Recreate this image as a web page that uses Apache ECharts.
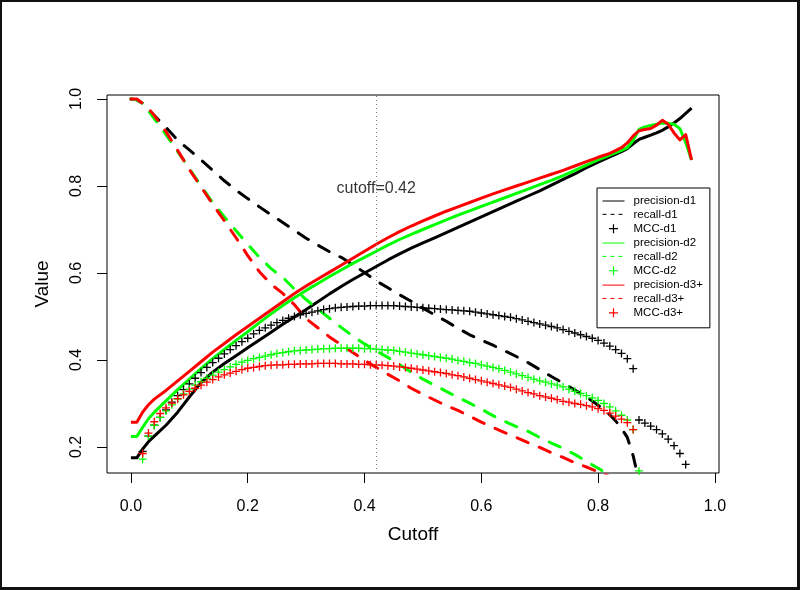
<!DOCTYPE html>
<html>
<head>
<meta charset="utf-8">
<script src="https://cdn.jsdelivr.net/npm/echarts@6/dist/echarts.min.js"></script>
<style>
html,body{margin:0;padding:0;background:#fff;}
#wrap{position:relative;width:800px;height:590px;}
#chart{position:absolute;left:0;top:0;width:800px;height:590px;}
#frame{position:absolute;left:0;top:0;width:800px;height:590px;box-sizing:border-box;border-left:2px solid #111;border-top:2px solid #111;border-right:3px solid #111;border-bottom:3px solid #111;pointer-events:none;}
</style>
</head>
<body>
<div id="wrap"><div id="chart"></div><div id="frame"></div></div>
<script>
// ---------- data ----------
const xTicks = [0, 0.2, 0.4, 0.6, 0.8, 1.0];
const yTicks = [0.2, 0.4, 0.6, 0.8, 1.0];
const chosenCutoff = 0.42;
const cutoffLabelY = 0.795;

const precisionD1 = [[0,0.175],[0.01,0.175],[0.02,0.195],[0.03,0.212],[0.04,0.225],[0.06,0.25],[0.08,0.28],[0.10,0.315],[0.12,0.348],[0.14,0.372],[0.16,0.392],[0.18,0.41],[0.20,0.428],[0.22,0.446],[0.24,0.464],[0.26,0.482],[0.28,0.499],[0.30,0.516],[0.32,0.534],[0.34,0.552],[0.36,0.569],[0.38,0.585],[0.40,0.60],[0.42,0.615],[0.44,0.63],[0.46,0.644],[0.48,0.657],[0.50,0.669],[0.52,0.681],[0.54,0.693],[0.56,0.705],[0.58,0.717],[0.60,0.729],[0.62,0.741],[0.64,0.753],[0.66,0.765],[0.68,0.777],[0.70,0.789],[0.72,0.802],[0.74,0.815],[0.76,0.828],[0.78,0.842],[0.80,0.855],[0.82,0.867],[0.84,0.879],[0.85,0.886],[0.86,0.897],[0.87,0.907],[0.88,0.912],[0.89,0.917],[0.90,0.922],[0.91,0.928],[0.92,0.936],[0.93,0.945],[0.94,0.955],[0.95,0.967],[0.96,0.979]];
const recallD1 = [[0,1.0],[0.01,0.998],[0.02,0.99],[0.03,0.975],[0.04,0.962],[0.06,0.935],[0.08,0.905],[0.10,0.883],[0.12,0.86],[0.14,0.836],[0.16,0.812],[0.18,0.79],[0.20,0.771],[0.22,0.752],[0.24,0.734],[0.26,0.716],[0.28,0.698],[0.30,0.68],[0.32,0.664],[0.34,0.649],[0.36,0.636],[0.38,0.619],[0.40,0.601],[0.42,0.582],[0.44,0.566],[0.46,0.55],[0.48,0.535],[0.50,0.519],[0.52,0.504],[0.54,0.489],[0.56,0.473],[0.58,0.458],[0.60,0.446],[0.62,0.434],[0.64,0.421],[0.66,0.408],[0.68,0.394],[0.70,0.378],[0.72,0.362],[0.74,0.347],[0.76,0.331],[0.78,0.315],[0.80,0.296],[0.82,0.274],[0.83,0.26],[0.84,0.243],[0.85,0.222],[0.86,0.18],[0.87,0.12]];
const mccD1 = [[0.02,0.19],[0.03,0.225],[0.04,0.25],[0.05,0.268],[0.06,0.285],[0.07,0.303],[0.08,0.318],[0.09,0.332],[0.10,0.345],[0.11,0.358],[0.12,0.371],[0.13,0.383],[0.14,0.394],[0.15,0.404],[0.16,0.414],[0.17,0.424],[0.18,0.433],[0.19,0.442],[0.20,0.45],[0.21,0.46],[0.22,0.468],[0.23,0.474],[0.24,0.48],[0.25,0.486],[0.26,0.491],[0.27,0.496],[0.28,0.50],[0.29,0.504],[0.30,0.507],[0.31,0.51],[0.32,0.513],[0.33,0.516],[0.34,0.518],[0.35,0.52],[0.36,0.521],[0.37,0.522],[0.38,0.523],[0.39,0.524],[0.40,0.524],[0.41,0.525],[0.42,0.525],[0.43,0.525],[0.44,0.525],[0.45,0.525],[0.46,0.524],[0.47,0.523],[0.48,0.522],[0.49,0.521],[0.50,0.52],[0.51,0.519],[0.52,0.518],[0.53,0.517],[0.54,0.516],[0.55,0.515],[0.56,0.514],[0.57,0.513],[0.58,0.512],[0.59,0.51],[0.60,0.508],[0.61,0.506],[0.62,0.504],[0.63,0.502],[0.64,0.50],[0.65,0.498],[0.66,0.495],[0.67,0.492],[0.68,0.489],[0.69,0.486],[0.70,0.483],[0.71,0.48],[0.72,0.477],[0.73,0.474],[0.74,0.47],[0.75,0.466],[0.76,0.462],[0.77,0.458],[0.78,0.454],[0.79,0.45],[0.80,0.445],[0.81,0.439],[0.82,0.432],[0.83,0.424],[0.84,0.415],[0.85,0.403],[0.86,0.38],[0.87,0.262],[0.88,0.255],[0.89,0.248],[0.90,0.24],[0.91,0.23],[0.92,0.218],[0.93,0.203],[0.94,0.185],[0.95,0.16]];

const precisionD2 = [[0,0.224],[0.01,0.224],[0.02,0.245],[0.03,0.265],[0.04,0.28],[0.06,0.306],[0.08,0.332],[0.10,0.356],[0.12,0.38],[0.14,0.403],[0.16,0.424],[0.18,0.445],[0.20,0.465],[0.22,0.486],[0.24,0.506],[0.26,0.525],[0.28,0.543],[0.30,0.56],[0.32,0.576],[0.34,0.592],[0.36,0.607],[0.38,0.622],[0.40,0.636],[0.42,0.65],[0.44,0.664],[0.46,0.677],[0.48,0.689],[0.50,0.70],[0.52,0.711],[0.54,0.722],[0.56,0.733],[0.58,0.743],[0.60,0.753],[0.62,0.763],[0.64,0.773],[0.66,0.783],[0.68,0.793],[0.70,0.803],[0.72,0.813],[0.74,0.824],[0.76,0.836],[0.78,0.848],[0.80,0.86],[0.82,0.871],[0.84,0.882],[0.85,0.888],[0.86,0.905],[0.87,0.93],[0.88,0.936],[0.89,0.939],[0.90,0.942],[0.91,0.945],[0.92,0.944],[0.93,0.942],[0.94,0.932],[0.95,0.9],[0.96,0.86]];
const recallD2 = [[0,1.0],[0.01,0.998],[0.02,0.99],[0.03,0.973],[0.04,0.955],[0.06,0.918],[0.08,0.879],[0.10,0.84],[0.12,0.80],[0.14,0.762],[0.16,0.729],[0.18,0.697],[0.20,0.666],[0.22,0.636],[0.24,0.61],[0.26,0.59],[0.28,0.563],[0.30,0.539],[0.32,0.517],[0.34,0.496],[0.36,0.475],[0.38,0.455],[0.40,0.437],[0.42,0.421],[0.44,0.406],[0.46,0.389],[0.48,0.372],[0.50,0.356],[0.52,0.342],[0.54,0.328],[0.56,0.314],[0.58,0.301],[0.60,0.287],[0.62,0.272],[0.64,0.259],[0.66,0.247],[0.68,0.236],[0.70,0.222],[0.72,0.209],[0.74,0.197],[0.76,0.183],[0.78,0.167],[0.80,0.151],[0.82,0.135]];
const mccD2 = [[0.02,0.172],[0.03,0.225],[0.04,0.25],[0.05,0.268],[0.06,0.283],[0.07,0.297],[0.08,0.31],[0.09,0.322],[0.10,0.333],[0.11,0.342],[0.12,0.35],[0.13,0.358],[0.14,0.365],[0.15,0.372],[0.16,0.378],[0.17,0.384],[0.18,0.39],[0.19,0.395],[0.20,0.399],[0.21,0.403],[0.22,0.406],[0.23,0.409],[0.24,0.412],[0.25,0.415],[0.26,0.417],[0.27,0.419],[0.28,0.421],[0.29,0.422],[0.30,0.423],[0.31,0.424],[0.32,0.425],[0.33,0.426],[0.34,0.426],[0.35,0.427],[0.36,0.427],[0.37,0.427],[0.38,0.427],[0.39,0.427],[0.40,0.426],[0.41,0.426],[0.42,0.425],[0.43,0.424],[0.44,0.423],[0.45,0.422],[0.46,0.42],[0.47,0.418],[0.48,0.416],[0.49,0.414],[0.50,0.412],[0.51,0.41],[0.52,0.408],[0.53,0.406],[0.54,0.404],[0.55,0.402],[0.56,0.399],[0.57,0.397],[0.58,0.394],[0.59,0.392],[0.60,0.389],[0.61,0.386],[0.62,0.383],[0.63,0.38],[0.64,0.376],[0.65,0.372],[0.66,0.368],[0.67,0.364],[0.68,0.36],[0.69,0.356],[0.70,0.352],[0.71,0.349],[0.72,0.345],[0.73,0.342],[0.74,0.338],[0.75,0.333],[0.76,0.328],[0.77,0.323],[0.78,0.318],[0.79,0.313],[0.80,0.307],[0.81,0.30],[0.82,0.292],[0.83,0.283],[0.84,0.273],[0.85,0.262],[0.86,0.24],[0.87,0.145]];

const precisionD3 = [[0,0.257],[0.01,0.257],[0.02,0.28],[0.03,0.297],[0.04,0.31],[0.06,0.33],[0.08,0.352],[0.10,0.374],[0.12,0.396],[0.14,0.418],[0.16,0.438],[0.18,0.458],[0.20,0.477],[0.22,0.496],[0.24,0.515],[0.26,0.534],[0.28,0.553],[0.30,0.57],[0.32,0.586],[0.34,0.602],[0.36,0.618],[0.38,0.634],[0.40,0.65],[0.42,0.666],[0.44,0.681],[0.46,0.695],[0.48,0.708],[0.50,0.72],[0.52,0.731],[0.54,0.742],[0.56,0.752],[0.58,0.762],[0.60,0.772],[0.62,0.782],[0.64,0.791],[0.66,0.80],[0.68,0.809],[0.70,0.818],[0.72,0.827],[0.74,0.836],[0.76,0.846],[0.78,0.856],[0.80,0.866],[0.82,0.875],[0.84,0.888],[0.85,0.899],[0.86,0.915],[0.87,0.927],[0.88,0.93],[0.89,0.932],[0.90,0.94],[0.91,0.951],[0.92,0.942],[0.93,0.922],[0.94,0.906],[0.95,0.918],[0.96,0.86]];
const recallD3 = [[0,1.0],[0.01,1.0],[0.02,0.99],[0.03,0.978],[0.04,0.962],[0.06,0.925],[0.08,0.882],[0.10,0.838],[0.12,0.798],[0.14,0.758],[0.16,0.72],[0.18,0.681],[0.20,0.64],[0.22,0.603],[0.24,0.574],[0.26,0.553],[0.28,0.527],[0.30,0.495],[0.32,0.474],[0.34,0.453],[0.36,0.435],[0.38,0.417],[0.40,0.399],[0.42,0.383],[0.44,0.367],[0.46,0.352],[0.48,0.335],[0.50,0.321],[0.52,0.308],[0.54,0.295],[0.56,0.284],[0.58,0.271],[0.60,0.257],[0.62,0.245],[0.64,0.233],[0.66,0.222],[0.68,0.21],[0.70,0.199],[0.72,0.187],[0.74,0.176],[0.76,0.164],[0.78,0.154],[0.80,0.143],[0.82,0.132]];
const mccD3 = [[0.02,0.185],[0.03,0.232],[0.04,0.258],[0.05,0.277],[0.06,0.29],[0.07,0.301],[0.08,0.311],[0.09,0.32],[0.10,0.328],[0.11,0.335],[0.12,0.342],[0.13,0.349],[0.14,0.355],[0.15,0.361],[0.16,0.366],[0.17,0.37],[0.18,0.374],[0.19,0.378],[0.20,0.381],[0.21,0.383],[0.22,0.385],[0.23,0.387],[0.24,0.388],[0.25,0.389],[0.26,0.389],[0.27,0.39],[0.28,0.39],[0.29,0.391],[0.30,0.391],[0.31,0.391],[0.32,0.392],[0.33,0.392],[0.34,0.392],[0.35,0.392],[0.36,0.391],[0.37,0.391],[0.38,0.391],[0.39,0.39],[0.40,0.39],[0.41,0.389],[0.42,0.389],[0.43,0.388],[0.44,0.387],[0.45,0.386],[0.46,0.384],[0.47,0.383],[0.48,0.381],[0.49,0.379],[0.50,0.377],[0.51,0.375],[0.52,0.373],[0.53,0.371],[0.54,0.369],[0.55,0.366],[0.56,0.364],[0.57,0.361],[0.58,0.358],[0.59,0.355],[0.60,0.352],[0.61,0.349],[0.62,0.346],[0.63,0.343],[0.64,0.34],[0.65,0.337],[0.66,0.333],[0.67,0.329],[0.68,0.325],[0.69,0.322],[0.70,0.318],[0.71,0.315],[0.72,0.312],[0.73,0.309],[0.74,0.305],[0.75,0.303],[0.76,0.30],[0.77,0.298],[0.78,0.295],[0.79,0.292],[0.80,0.288],[0.81,0.284],[0.82,0.278],[0.83,0.271],[0.84,0.264],[0.85,0.256],[0.86,0.24]];

// ---------- chart ----------
const FONT = '"Liberation Sans", Arial, Helvetica, sans-serif';
const BLACK = '#000000', GREEN = '#00ff00', RED = '#ff0000';
const plusPath = 'path://M3.35,0H4.65V3.35H8V4.65H4.65V8H3.35V4.65H0V3.35H3.35Z';
const plusLegend = 'path://M0,0M28,28M12.8,5H15.2V12.8H23V15.2H15.2V23H12.8V15.2H5V12.8H12.8Z';

function lineSeries(name, data, color, dashed) {
  return {
    name, type: 'line', data, symbol: 'none', showSymbol: false,
    lineStyle: { color, width: 3, type: dashed ? [12, 12] : 'solid', cap: dashed ? 'round' : 'butt', join: 'round' },
    itemStyle: { color },
    clip: true, silent: true, z: 2
  };
}
function mccSeries(name, data, color) {
  return {
    name, type: 'scatter', data, symbol: plusPath, symbolSize: 8,
    itemStyle: { color, opacity: 1 }, clip: true, silent: true, z: 2
  };
}
function legLine(name, color, dashed) {
  return { name, itemStyle: { color: 'rgba(0,0,0,0)', opacity: 0 },
    lineStyle: { color, width: 1, type: dashed ? [4, 4] : 'solid', cap: 'butt' } };
}
function legPlus(name, color) {
  return { name, icon: plusLegend, itemStyle: { color } };
}

const chart = echarts.init(document.getElementById('chart'), null, { renderer: 'canvas' });
chart.setOption({
  animation: false,
  backgroundColor: '#ffffff',
  textStyle: { fontFamily: FONT },
  grid: { left: 107, right: 81, top: 95, bottom: 117, show: true, borderColor: '#000', borderWidth: 1, backgroundColor: 'transparent' },
  xAxis: {
    type: 'value', min: -0.041, max: 1.007,
    name: 'Cutoff', nameLocation: 'middle', nameGap: 52,
    nameTextStyle: { fontSize: 19, color: '#000', fontFamily: FONT },
    axisLine: { show: false, onZero: false },
    axisTick: { show: true, length: 10, lineStyle: { color: '#000', width: 1 }, customValues: xTicks },
    axisLabel: { fontSize: 16, color: '#000', margin: 26, fontFamily: FONT, customValues: xTicks, formatter: v => v.toFixed(1) },
    splitLine: { show: false }
  },
  yAxis: {
    type: 'value', min: 0.1402, max: 1.0092,
    name: 'Value', nameLocation: 'middle', nameGap: 55, nameRotate: 90,
    nameTextStyle: { fontSize: 19, color: '#000', fontFamily: FONT },
    axisLine: { show: false, onZero: false },
    axisTick: { show: true, length: 10, lineStyle: { color: '#000', width: 1 }, customValues: yTicks },
    axisLabel: { fontSize: 16, color: '#000', margin: 22, rotate: 90, fontFamily: FONT, customValues: yTicks, formatter: v => v.toFixed(1) },
    splitLine: { show: false }
  },
  legend: {
    orient: 'vertical', left: 597, top: 188,
    itemWidth: 22, itemHeight: 14, itemGap: 1.35,
    padding: [7, 7, 8, 5],
    borderColor: '#000', borderWidth: 1, backgroundColor: '#fff',
    selectedMode: false,
    textStyle: { fontSize: 11.5, color: '#000', fontFamily: FONT, padding: [0, 0, 0, 4] },
    data: [
      legLine('precision-d1', BLACK, false), legLine('recall-d1', BLACK, true), legPlus('MCC-d1', BLACK),
      legLine('precision-d2', GREEN, false), legLine('recall-d2', GREEN, true), legPlus('MCC-d2', GREEN),
      legLine('precision-d3+', RED, false), legLine('recall-d3+', RED, true), legPlus('MCC-d3+', RED)
    ]
  },
  series: [
    lineSeries('precision-d1', precisionD1, BLACK, false),
    lineSeries('recall-d1', recallD1, BLACK, true),
    mccSeries('MCC-d1', mccD1, BLACK),
    lineSeries('precision-d2', precisionD2, GREEN, false),
    lineSeries('recall-d2', recallD2, GREEN, true),
    mccSeries('MCC-d2', mccD2, GREEN),
    lineSeries('precision-d3+', precisionD3, RED, false),
    lineSeries('recall-d3+', recallD3, RED, true),
    mccSeries('MCC-d3+', mccD3, RED),
    {
      name: 'cutoff', type: 'scatter', data: [[chosenCutoff, cutoffLabelY]],
      symbolSize: 0, silent: true, z: 1,
      label: { show: true, position: 'inside', formatter: 'cutoff=' + chosenCutoff, fontSize: 16, color: '#000', fontFamily: FONT },
      markLine: {
        silent: true, symbol: ['none', 'none'], label: { show: false },
        lineStyle: { color: '#808080', type: [1, 3], width: 1 },
        data: [{ xAxis: chosenCutoff }]
      }
    }
  ]
});
</script>
</body>
</html>
